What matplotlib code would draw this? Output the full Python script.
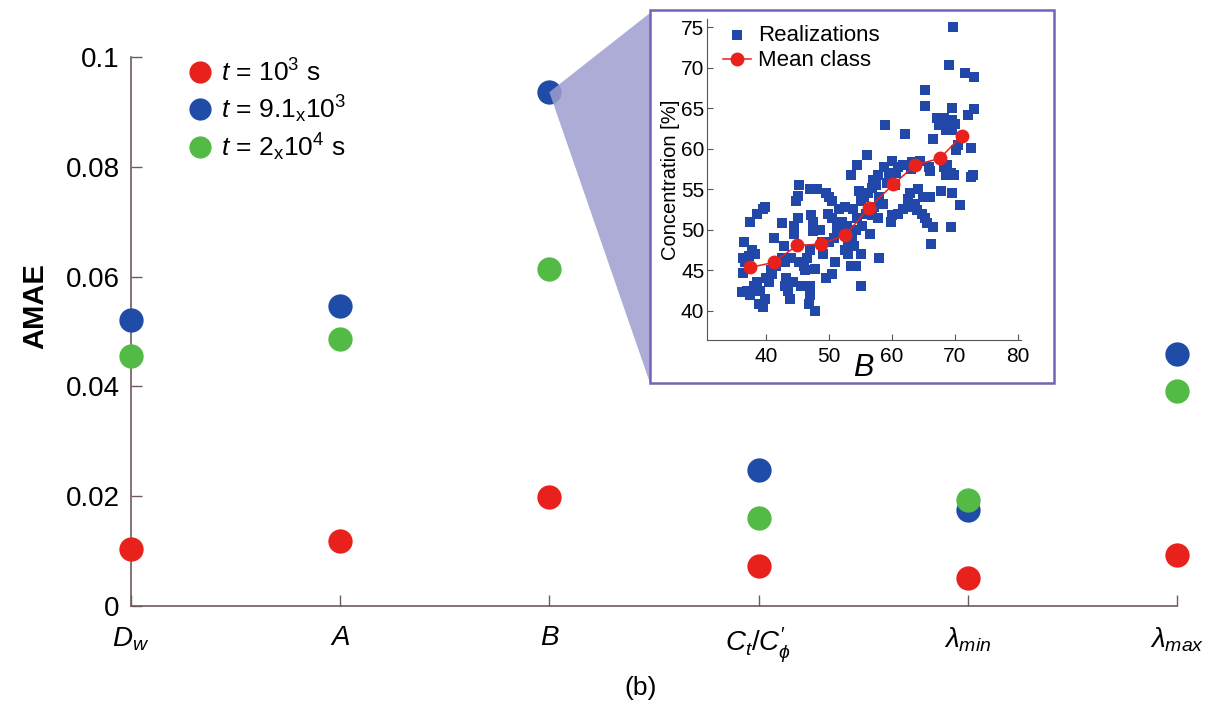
import matplotlib
matplotlib.use("Agg")
import matplotlib.pyplot as plt
from matplotlib.patches import Rectangle, Polygon
from matplotlib.lines import Line2D

plt.rcParams["font.family"] = ["Liberation Sans", "DejaVu Sans"]
plt.rcParams["mathtext.fontset"] = "custom"
plt.rcParams["mathtext.rm"] = "Liberation Sans"
plt.rcParams["mathtext.it"] = "Liberation Sans:italic"
plt.rcParams["mathtext.bf"] = "Liberation Sans:bold"

# ---- main panel data -------------------------------------------------------
parameters = [r"$D_w$", r"$A$", r"$B$", r"$C_t/C_\phi^{\prime}$", r"$\lambda_{min}$", r"$\lambda_{max}$"]
amae_t1 = [0.0104, 0.0118, 0.0199, 0.0073, 0.0051, 0.0093]
amae_t2 = [0.0521, 0.0546, 0.0936, 0.0248, 0.0175, 0.0459]
amae_t3 = [0.0455, 0.0486, 0.0614, 0.0160, 0.0193, 0.0392]
series_labels = [r"$t$ = 10$^3$ s", r"$t$ = 9.1$_\mathrm{x}$10$^3$", r"$t$ = 2$_\mathrm{x}$10$^4$ s"]
y_ticks = [0, 0.02, 0.04, 0.06, 0.08, 0.1]
y_ticklabels = ["0", "0.02", "0.04", "0.06", "0.08", "0.1"]

# ---- inset data: realizations of B vs concentration ------------------------
real_b = [36.3, 36.5, 36.3, 36.2, 37.0, 37.5, 36.7, 37.8, 38.2, 37.5, 38.5, 39.8,
          39.5, 38.5, 39.0, 38.8, 39.5, 39.8, 40.0, 40.5, 41.0, 41.2, 40.8, 42.5,
          42.5, 42.8, 43.0, 43.5, 43.2, 43.8, 44.2, 44.0, 44.5, 44.8, 45.0, 45.2,
          45.0, 44.5, 45.2, 45.5, 46.0, 46.5, 47.0, 47.2, 47.5, 47.0, 47.8, 48.0,
          47.5, 47.8, 47.0, 47.0, 46.8, 47.8, 48.5, 48.8, 49.5, 50.0, 50.5, 49.8,
          50.5, 50.8, 50.0, 49.5, 50.5, 51.0, 51.5, 52.0, 52.5, 52.8, 53.0, 52.5,
          53.0, 53.5, 54.2, 55.0, 55.0, 53.5, 53.8, 54.2, 54.5, 54.8, 55.0, 54.5,
          55.5, 56.2, 56.0, 55.8, 56.5, 56.8, 57.0, 57.5, 57.8, 57.2, 57.8, 58.0,
          58.0, 58.5, 58.8, 58.9, 59.5, 60.0, 60.5, 60.0, 59.8, 61.0, 61.8, 62.0,
          61.0, 61.8, 62.8, 62.5, 62.8, 63.0, 63.2, 64.0, 64.5, 64.8, 65.2, 65.5,
          65.0, 65.2, 65.3, 65.8, 66.0, 66.5, 66.5, 66.2, 66.0, 67.2, 67.5, 67.8,
          68.2, 68.3, 68.6, 68.8, 68.5, 68.8, 69.0, 69.3, 69.5, 69.5, 69.5, 69.5,
          69.4, 69.7, 69.8, 70.0, 70.2, 70.8, 71.6, 72.0, 72.6, 72.6, 72.8, 73.0,
          73.0, 71.0, 70.5, 37.2, 38.0, 41.5, 43.0, 46.2, 49.0, 51.2, 52.2, 53.6,
          54.0, 55.3, 56.8, 59.2, 60.7, 63.6, 64.2]
real_c = [46.5, 48.5, 44.7, 42.3, 42.5, 42.0, 46.0, 47.5, 47.0, 51.0, 52.0, 52.8,
          52.5, 43.5, 42.5, 40.8, 40.5, 41.5, 44.0, 43.5, 44.5, 49.0, 45.0, 46.5,
          50.8, 48.0, 43.0, 42.5, 44.0, 41.5, 43.5, 46.5, 49.5, 53.5, 54.2, 55.5,
          51.5, 50.5, 46.0, 43.0, 45.5, 46.5, 47.5, 51.8, 51.0, 55.0, 55.0, 55.0,
          49.8, 45.2, 43.0, 42.0, 40.8, 40.0, 50.0, 48.5, 54.5, 54.0, 53.5, 52.0,
          51.5, 49.0, 48.5, 44.0, 44.5, 46.0, 52.5, 51.0, 52.8, 50.5, 48.5, 47.5,
          47.0, 45.5, 45.5, 47.0, 43.0, 56.8, 52.5, 50.0, 51.5, 54.8, 53.5, 58.0,
          54.0, 54.5, 59.2, 52.0, 49.5, 55.2, 56.2, 55.5, 56.8, 52.8, 51.5, 46.5,
          54.0, 53.2, 57.8, 62.9, 57.0, 58.5, 55.5, 51.8, 51.0, 57.8, 58.0, 61.8,
          52.0, 52.5, 52.8, 53.8, 54.5, 57.5, 58.3, 52.4, 58.5, 52.0, 51.4, 50.8,
          54.0, 65.3, 67.2, 57.8, 57.2, 61.2, 50.4, 48.3, 54.0, 63.8, 62.9, 54.8,
          57.8, 63.8, 62.3, 62.9, 56.8, 58.0, 70.3, 57.0, 63.5, 65.0, 62.3, 54.5,
          50.4, 75.0, 56.8, 63.1, 59.8, 53.0, 69.4, 64.2, 60.1, 56.5, 56.8, 68.9,
          64.9, 61.5, 60.5, 46.8, 43.0, 45.5, 46.0, 45.0, 47.0, 50.2, 49.8, 49.2,
          48.0, 50.5, 51.8, 55.8, 57.0, 53.2, 55.0]
class_b = [37.4, 41.2, 44.9, 48.7, 52.6, 56.3, 60.2, 63.7, 67.6, 71.1]
class_c = [45.35, 45.97, 48.07, 48.23, 49.35, 52.68, 55.6, 57.99, 58.81, 61.6]

RED = "#e8211c"
BLUE = "#1f4ca6"
GREEN = "#52ba45"
SPINE = "#6e5c5c"
FRAME = "#7463b8"

fig = plt.figure(figsize=(12.08, 7.07), dpi=100)
fig.patch.set_facecolor("white")

# ---- main axes -------------------------------------------------------------
ax = fig.add_axes([0.1084, 0.1429, 0.8659, 0.7765])
x = list(range(len(parameters)))
ms = 17.5
ax.plot(x, amae_t1, "o", color=RED, ms=ms, mec="none", clip_on=False, zorder=3)
ax.plot(x, amae_t2, "o", color=BLUE, ms=ms, mec="none", clip_on=False, zorder=3)
ax.plot(x, amae_t3, "o", color=GREEN, ms=ms, mec="none", clip_on=False, zorder=3)

ax.set_xlim(0, len(parameters) - 1)
ax.set_ylim(0, 0.1)
ax.set_yticks(y_ticks)
ax.set_yticklabels(y_ticklabels, fontsize=20)
ax.set_xticks(x)
ax.set_xticklabels(parameters, fontsize=20)
ax.tick_params(axis="both", direction="in", length=8, width=1, color=SPINE)
ax.tick_params(axis="x", pad=14)
ax.tick_params(axis="y", pad=8)
for s in ("top", "right"):
    ax.spines[s].set_visible(False)
for s in ("left", "bottom"):
    ax.spines[s].set_color(SPINE)
    ax.spines[s].set_linewidth(1.2)
ax.set_ylabel("AMAE", fontsize=21, fontweight="bold")
ax.yaxis.set_label_coords(-0.078, 0.546)
ax.set_xlabel("(b)", fontsize=19)
ax.xaxis.set_label_coords(0.4875, -0.127)

handles = [Line2D([], [], marker="o", ls="none", color=c, ms=16, mec="none")
           for c in (RED, BLUE, GREEN)]
ax.legend(handles, series_labels, loc="upper left", bbox_to_anchor=(0.0435, 1.015),
          frameon=False, fontsize=19, handlelength=1.0, handletextpad=0.3,
          labelspacing=0.26, borderaxespad=0)

# ---- zoom wedge and inset frame --------------------------------------------
fig_w, fig_h = fig.get_size_inches() * fig.dpi
px = lambda X, Y: (X / fig_w, 1 - Y / fig_h)
frame_l, frame_r, frame_t, frame_b = 650, 1054, 10, 383
bx, by = ax.transData.transform((2, amae_t2[2]))
wedge = Polygon([(bx / fig_w, by / fig_h), px(frame_l, frame_t + 3), px(frame_l, frame_b)],
                closed=True, transform=fig.transFigure, facecolor="#9e9ed0",
                edgecolor="none", alpha=0.85, zorder=1)
fig.patches.append(wedge)
fx0, fy1 = px(frame_l, frame_t)
fx1, fy0 = px(frame_r, frame_b)
frame = Rectangle((fx0, fy0), fx1 - fx0, fy1 - fy0, transform=fig.transFigure,
                  facecolor="white", edgecolor=FRAME, lw=1.8, zorder=2)
fig.patches.append(frame)

# ---- inset axes ------------------------------------------------------------
ins = fig.add_axes([0.5853, 0.5191, 0.2599, 0.4540], zorder=5)
ins.patch.set_alpha(0)
ins.scatter(real_b, real_c, marker="s", s=50, color="#2147a8", linewidths=0,
            label="Realizations", zorder=2)
ins.plot(class_b, class_c, "-o", color=RED, lw=1.1, ms=10, mec="none",
         label="Mean class", zorder=3)
ins.set_xlim(30.6, 80.5)
ins.set_ylim(36.4, 76)
ins.set_xticks([40, 50, 60, 70, 80])
ins.set_yticks([40, 45, 50, 55, 60, 65, 70, 75])
ins.tick_params(axis="both", direction="in", length=4, labelsize=15, color="#555555")
ins.tick_params(axis="x", pad=5)
ins.tick_params(axis="y", pad=2)
for s in ("top", "right"):
    ins.spines[s].set_visible(False)
for s in ("left", "bottom"):
    ins.spines[s].set_color("#555555")
ins.set_xlabel(r"$B$", fontsize=22, labelpad=-9)
ins.set_ylabel("Concentration [%]", fontsize=14.5, labelpad=1)
ins.legend(loc="upper left", bbox_to_anchor=(0.0, 1.03), frameon=False, fontsize=16,
           handlelength=1.3, handletextpad=0.3, labelspacing=0.2, borderaxespad=0.3,
           markerscale=1.0)

fig.savefig("out.png", dpi=100, facecolor="white")
